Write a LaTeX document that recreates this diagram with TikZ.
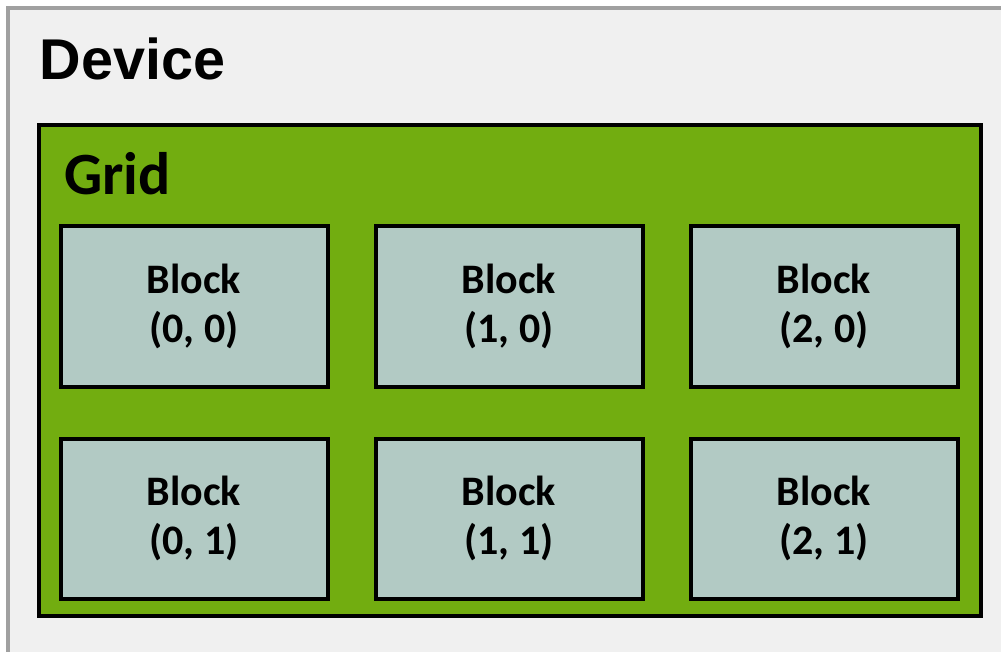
\documentclass[tikz,border=0pt]{standalone}
\usepackage{fontspec}
\setmainfont{Carlito}
\newfontfamily\devicefont{Liberation Sans}
\usetikzlibrary{positioning}
\definecolor{devicefill}{HTML}{F0F0F0}
\definecolor{devicedraw}{HTML}{A0A0A0}
\definecolor{gridfill}{HTML}{72AD10}
\definecolor{blockfill}{HTML}{B2CAC4}

\begin{document}
\begin{tikzpicture}[
  x=1pt, y=-1pt,
  device/.style={
    rectangle, draw=devicedraw, line width=4pt, fill=devicefill,
    minimum width=1100pt, minimum height=700pt, inner sep=0pt, outer sep=0pt
  },
  grid/.style={
    rectangle, draw=black, line width=4pt, fill=gridfill,
    minimum width=942pt, minimum height=490pt, inner sep=0pt, outer sep=0pt
  },
  block/.style={
    rectangle, draw=black, line width=4pt, fill=blockfill,
    minimum width=267pt, minimum height=160pt, align=center, outer sep=0pt,
    font=\fontsize{42}{49}\selectfont\bfseries
  },
  title/.style={anchor=base west, inner sep=0pt}
]
\useasboundingbox (0,0) rectangle (1001,652);
\clip (0,0) rectangle (1001,652);

% Containers
\node[device, anchor=north west] (device) at (7.5,8.5) {};
\node[title, font=\devicefont\fontsize{57.5}{62}\selectfont\bfseries] (devicelabel) at (39.5,80) {Device};
\node[grid, anchor=north west] (grid) at (38.5,125.5) {};
\node[title, font=\fontsize{60}{64}\selectfont\bfseries] (gridlabel) at (64,195) {Grid};

% Blocks
\node[block] (b00) at (194,306.5) {Block\\(0, 0)};
\node[block, right=48pt of b00] (b10) {Block\\(1, 0)};
\node[block, right=48pt of b10] (b20) {Block\\(2, 0)};
\node[block, below=52pt of b00] (b01) {Block\\(0, 1)};
\node[block, right=48pt of b01] (b11) {Block\\(1, 1)};
\node[block, right=48pt of b11] (b21) {Block\\(2, 1)};

\end{tikzpicture}
\end{document}
